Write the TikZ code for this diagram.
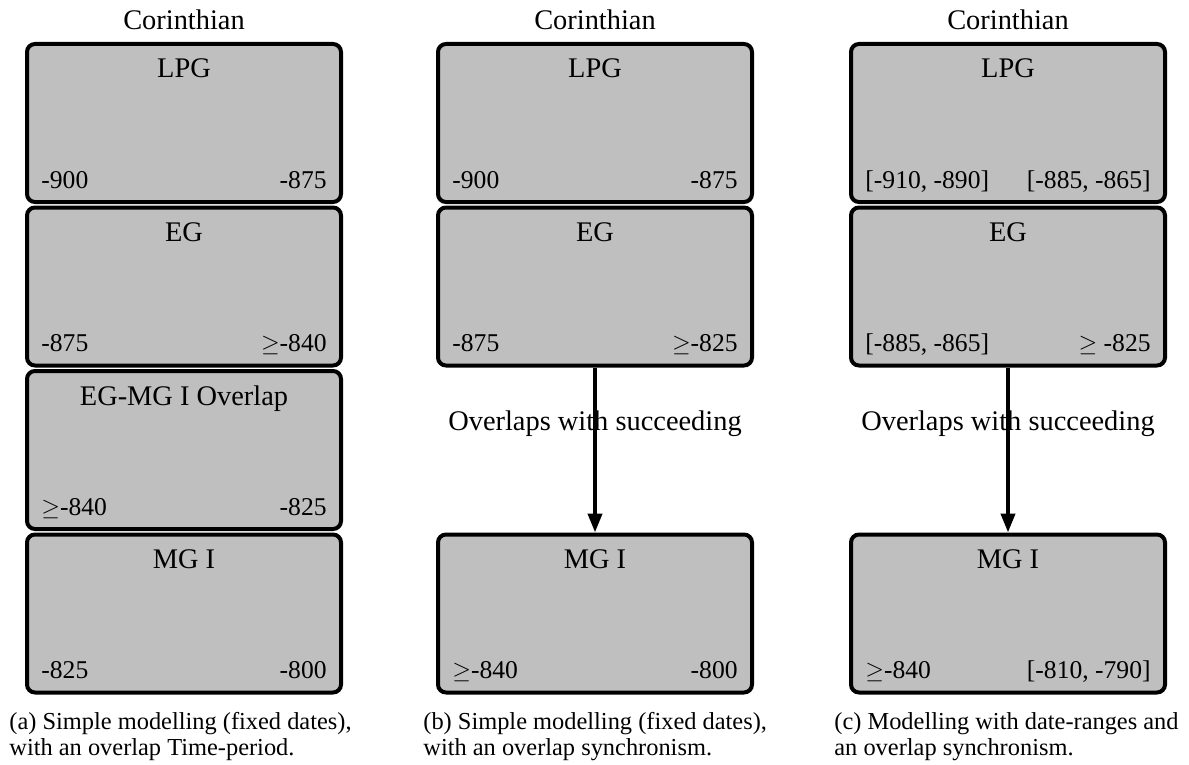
\documentclass[tikz,border=0pt]{standalone}
\usepackage{fontspec}
\setmainfont{Liberation Serif}
\usetikzlibrary{calc,arrows.meta}
\begin{document}
\begin{tikzpicture}[x=0.5pt,y=-0.5pt,
  box/.style={draw, line width=2pt, fill=gray!50, rounded corners=4pt,
    minimum width=157pt, minimum height=79pt, inner sep=0pt, anchor=north},
  lbl/.style={font=\fontsize{14.2}{16}\selectfont, inner sep=0pt},
  datetext/.style={font=\fontsize{12.8}{15}\selectfont, inner sep=0pt},
  captext/.style={font=\fontsize{12.2}{14}\selectfont, inner sep=0pt, anchor=base west},
  conn/.style={line width=2pt, -{Triangle[width=7pt,length=9.5pt]}}]
\useasboundingbox (0,0) rectangle (1189,765);

% titles
\node[lbl, anchor=base] (ta) at (184,30) {Corinthian};
\node[lbl, anchor=base] (tb) at (595,30) {Corinthian};
\node[lbl, anchor=base] (tc) at (1008,30) {Corinthian};

% column a
\node[box] (a1) at (184,42) {};
\node[box] (a2) at (184,205.5) {};
\node[box] (a3) at (184,369) {};
\node[box] (a4) at (184,532.5) {};
% column b
\node[box] (b1) at (595,42) {};
\node[box] (b2) at (595,205.5) {};
\node[box] (b4) at (595,532.5) {};
% column c
\node[box] (c1) at (1008,42) {};
\node[box] (c2) at (1008,205.5) {};
\node[box] (c4) at (1008,532.5) {};

% labels inside boxes
\foreach \b/\t/\l/\r in {a1/LPG/-900/-875, a2/EG/-875/{$\geq$-840}, a3/{EG-MG I Overlap}/{$\geq$-840}/-825, a4/MG I/-825/-800,
  b1/LPG/-900/-875, b2/EG/-875/{$\geq$-825}, b4/MG I/{$\geq$-840}/-800,
  c1/LPG/{[-910, -890]}/{[-885, -865]}, c2/EG/{[-885, -865]}/{$\geq$ -825}, c4/MG I/{$\geq$-840}/{[-810, -790]}}{
  \node[lbl, anchor=base] (\b-name) at ($(\b.north)+(0,36)$) {\t};
  \node[datetext, anchor=base west] (\b-start) at ($(\b.south west)+(16,-16)$) {\l};
  \node[datetext, anchor=base east] (\b-end) at ($(\b.south east)+(-16,-16)$) {\r};
}

% connectors
\draw[conn] (b2.south) -- (b4.north);
\draw[conn] (c2.south) -- (c4.north);
\node[lbl, anchor=base] (ob) at (595,430) {Overlaps with succeeding};
\node[lbl, anchor=base] (oc) at (1008,430) {Overlaps with succeeding};

% captions
\node[captext] (capa1) at (9,729) {(a) Simple modelling (fixed dates),};
\node[captext] (capa2) at (9,755) {with an overlap Time-period.};
\node[captext] (capb1) at (423,729) {(b) Simple modelling (fixed dates),};
\node[captext] (capb2) at (423,755) {with an overlap synchronism.};
\node[captext] (capc1) at (834,729) {(c) Modelling with date-ranges and};
\node[captext] (capc2) at (834,755) {an overlap synchronism.};
\end{tikzpicture}
\end{document}
